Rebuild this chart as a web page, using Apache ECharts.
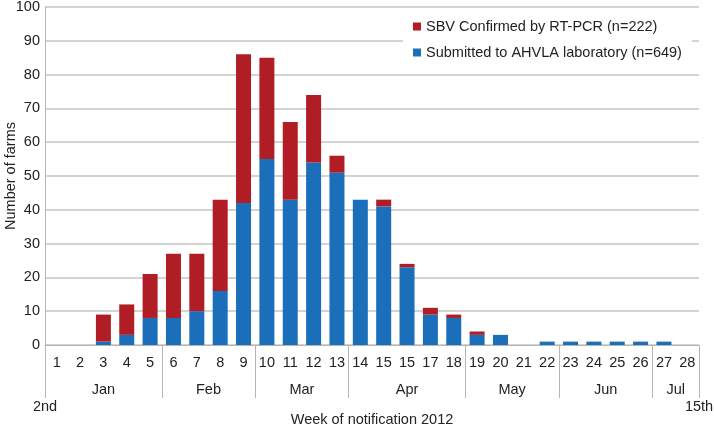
<!DOCTYPE html>
<html>
<head>
<meta charset="utf-8">
<script src="https://cdn.jsdelivr.net/npm/echarts@6/dist/echarts.min.js"></script>
<style>html,body{margin:0;padding:0;background:#fff}#c{width:714px;height:428px}</style>
</head>
<body>
<div id="c"></div>
<script>
// Week tick labels (the source labels week 16 as "15")
const weekLabels = ['1','2','3','4','5','6','7','8','9','10','11','12','13','14','15','15','17','18','19','20','21','22','23','24','25','26','27','28'];
// Blue segment: Submitted to AHVLA laboratory
const submitted = [0,0,1,3,8,8,10,16,42,55,43,54,51,43,41,23,9,8,3,3,0,1,1,1,1,1,1,0];
// Red segment: SBV confirmed by RT-PCR
const confirmed = [0,0,8,9,13,19,17,27,44,30,23,20,5,0,2,1,2,1,1,0,0,0,0,0,0,0,0,0];
// Month grouping of weeks
const months = ['Jan','Feb','Mar','Apr','May','Jun','Jul'];
const monthWeeks = [5,4,4,5,4,4,2];
const rangeLabels = ['2nd','15th'];
const yTicks = {min:0, max:100, interval:10};

const seriesNames = ['Submitted to AHVLA laboratory (n=649)','SBV Confirmed by RT-PCR (n=222)'];

// half-week positions for the month axis
const nHalf = weekLabels.length * 2 + 1;
const halfLabels = new Array(nHalf).fill('');
const boundaries = new Set();
let s = 0;
months.forEach((m, k) => {
  boundaries.add(2 * s);
  halfLabels[2 * s + monthWeeks[k]] = m;
  s += monthWeeks[k];
});
boundaries.add(2 * s);

const FONT = 'Liberation Sans, Arial, Helvetica, sans-serif';
const TXT = '#222';
const GRID = '#c4c4c4';
const FS = 14.5;

const chart = echarts.init(document.getElementById('c'));
chart.setOption({
  animation: false,
  backgroundColor: '#fff',
  textStyle: {fontFamily: FONT},
  grid: {left: 45, right: 15, top: 7, bottom: 83, outerBoundsMode: 'none'},
  legend: {
    orient: 'vertical',
    left: 403, top: 9,
    padding: [10, 10, 10, 10],
    backgroundColor: '#fff',
    itemWidth: 8, itemHeight: 8,
    itemGap: 11,
    icon: 'rect',
    data: [seriesNames[1], seriesNames[0]],
    textStyle: {fontSize: FS, color: TXT, fontFamily: FONT, lineHeight: 15}
  },
  xAxis: [
    {
      type: 'category',
      data: weekLabels.map((_, i) => String(i)),
      boundaryGap: true,
      axisLine: {show: true, lineStyle: {color: '#b5b5b5', width: 1}},
      axisTick: {show: false},
      axisLabel: {interval: 0, margin: 10, fontSize: FS, color: TXT, fontFamily: FONT,
        formatter: (v, i) => weekLabels[i]},
      name: 'Week of notification 2012',
      nameLocation: 'middle',
      nameGap: 67,
      nameMoveOverlap: false,
      nameTextStyle: {fontSize: FS, color: TXT, fontFamily: FONT}
    },
    {
      type: 'category',
      position: 'bottom',
      data: halfLabels.map((_, i) => String(i)),
      boundaryGap: false,
      axisLine: {show: false},
      axisTick: {show: true, length: 53, inside: false, lineStyle: {color: '#b5b5b5', width: 1},
        interval: (i) => boundaries.has(i)},
      axisLabel: {margin: 37, fontSize: FS, color: TXT, fontFamily: FONT,
        interval: (i) => halfLabels[i] !== '',
        formatter: (v, i) => halfLabels[i]},
      splitLine: {show: false}
    },
    {
      type: 'category',
      position: 'bottom',
      data: rangeLabels,
      boundaryGap: false,
      axisLine: {show: false},
      axisTick: {show: false},
      axisLabel: {margin: 54, fontSize: FS, color: TXT, fontFamily: FONT, interval: 0},
      splitLine: {show: false}
    }
  ],
  yAxis: {
    type: 'value',
    min: yTicks.min, max: yTicks.max, interval: yTicks.interval,
    axisLine: {show: true, lineStyle: {color: '#b5b5b5', width: 1}},
    axisTick: {show: false},
    axisLabel: {margin: 5, fontSize: FS, color: TXT, fontFamily: FONT},
    splitLine: {show: true, lineStyle: {color: GRID, width: 1.5}},
    name: 'Number of farms',
    nameLocation: 'middle',
    nameGap: 27,
    nameMoveOverlap: false,
    nameRotate: 90,
    nameTextStyle: {fontSize: FS, color: TXT, fontFamily: FONT}
  },
  series: [
    {
      name: seriesNames[0], type: 'bar', stack: 'a', xAxisIndex: 0,
      barWidth: 15, data: submitted,
      itemStyle: {color: '#1b6fba'}
    },
    {
      name: seriesNames[1], type: 'bar', stack: 'a', xAxisIndex: 0,
      barWidth: 15, data: confirmed,
      itemStyle: {color: '#b01d25'}
    }
  ]
});
</script>
</body>
</html>
